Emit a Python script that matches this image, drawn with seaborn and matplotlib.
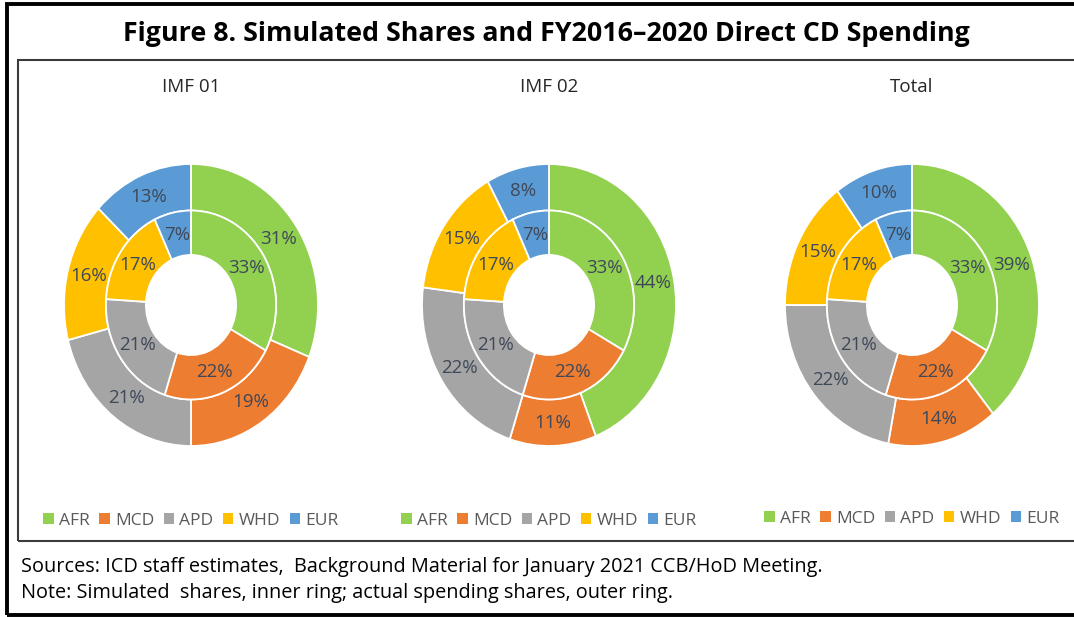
import matplotlib.pyplot as plt
import seaborn as sns
from matplotlib.patches import Patch, Rectangle

# data
regions = ["AFR", "MCD", "APD", "WHD", "EUR"]
panel_titles = ["IMF 01", "IMF 02", "Total"]
simulated = [33, 22, 21, 17, 7]            # inner ring (same in every panel)
actual_imf01 = [31, 19, 21, 16, 13]        # outer ring
actual_imf02 = [44, 11, 22, 15, 8]
actual_total = [39, 14, 22, 15, 10]
actual_shares = [actual_imf01, actual_imf02, actual_total]

colors = sns.color_palette(["#92D050", "#ED7D31", "#A5A5A5", "#FFC000", "#5B9BD5"])
label_color = "#3E4858"

sns.set_theme(style="white")
plt.rcParams['font.family'] = ['Open Sans', 'DejaVu Sans']

W, H = 1074, 617
fig = plt.figure(figsize=(W / 100, H / 100), dpi=100)

# layout in pixels
centers_x = [191, 549, 912]
center_y = 305
rx, ry = 127, 141          # the donuts are slightly stretched vertically
lim = 1.05
legend_y = [521, 521, 519]

for i, (title, outer) in enumerate(zip(panel_titles, actual_shares)):
    cx = centers_x[i]
    ax = fig.add_axes([(cx - rx * lim) / W, 1 - (center_y + ry * lim) / H,
                       2 * rx * lim / W, 2 * ry * lim / H])
    ax.pie(outer, radius=1.0, colors=colors, startangle=90, counterclock=False,
           wedgeprops=dict(width=0.33, edgecolor="white", linewidth=1.3),
           autopct=lambda p: f"{p:.0f}%", pctdistance=0.835,
           textprops=dict(color=label_color, fontsize=13.5))
    ax.pie(simulated, radius=0.67, colors=colors, startangle=90, counterclock=False,
           wedgeprops=dict(width=0.315, edgecolor="white", linewidth=1.3),
           autopct=lambda p: f"{p:.0f}%", pctdistance=0.51 / 0.67,
           textprops=dict(color=label_color, fontsize=13.5))
    ax.set_aspect("auto")
    ax.set_xlim(-lim, lim)
    ax.set_ylim(-lim, lim)
    ax.axis("off")

    fig.text(cx / W, 1 - 87 / H, title, ha="center", va="center",
             fontsize=13.5, color="#262626")

    handles = [Patch(facecolor=c, edgecolor="none", label=r) for c, r in zip(colors, regions)]
    fig.legend(handles=handles, loc="center", bbox_to_anchor=(cx / W, 1 - legend_y[i] / H),
               ncol=5, frameon=False, fontsize=12.5, handlelength=0.6, handleheight=0.6,
               handletextpad=0.3, columnspacing=0.55, labelcolor="#595959")

# title and notes
fig.text(546 / W, 1 - 34 / H, "Figure 8. Simulated Shares and FY2016\u20132020 Direct CD Spending",
         ha="center", va="center", fontsize=19.3, fontweight="bold", color="black")
fig.text(21 / W, 1 - 567 / H,
         "Sources: ICD staff estimates,  Background Material for January 2021 CCB/HoD Meeting.",
         ha="left", va="center", fontsize=14.3, color="black")
fig.text(21 / W, 1 - 593 / H,
         "Note: Simulated  shares, inner ring; actual spending shares, outer ring.",
         ha="left", va="center", fontsize=14.3, color="black")

# frames: inner chart box and outer black border (right side runs off the picture)
fig.add_artist(Rectangle((18 / W, 1 - 541 / H), 1.1, (541 - 60) / H, transform=fig.transFigure,
                         fill=False, edgecolor="#3A3A3A", linewidth=1.5))
fig.add_artist(Rectangle((6.5 / W, 1 - 614.5 / H), 1.1, (614.5 - 4) / H, transform=fig.transFigure,
                         fill=False, edgecolor="black", linewidth=2.8))

fig.savefig("out.png", dpi=100)
